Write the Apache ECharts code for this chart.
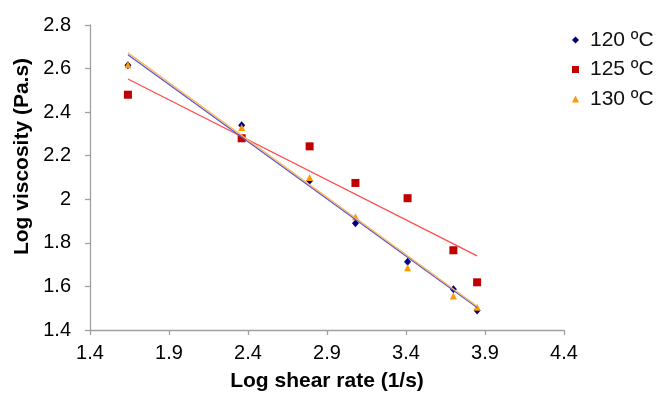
<!DOCTYPE html>
<html><head><meta charset="utf-8">
<script src="https://cdn.jsdelivr.net/npm/echarts@6/dist/echarts.min.js"></script>
<style>html,body{margin:0;padding:0;background:#fff}#c{width:656px;height:397px}</style>
</head><body><div id="c"></div>
<script>
var shearRate = [1.64, 2.36, 2.79, 3.08, 3.41, 3.70, 3.85];
var visc120 = [2.615, 2.34, 2.085, 1.89, 1.713, 1.587, 1.49];
var visc125 = [2.48, 2.28, 2.243, 2.075, 2.005, 1.766, 1.619];
var visc130 = [2.618, 2.33, 2.10, 1.92, 1.686, 1.556, 1.505];
var trendX = [1.64, 3.85];
var trend120 = [2.663, 1.503];
var trend125 = [2.552, 1.740];
var trend130 = [2.673, 1.509];
var seriesNames = ['120 ºC', '125 ºC', '130 ºC'];
var xTicks = {min: 1.4, max: 4.4, interval: 0.5};
var yTicks = {min: 1.4, max: 2.8, interval: 0.2};

function pairs(xs, ys){ return xs.map(function(x,i){ return [x, ys[i]]; }); }
var font = '"Liberation Sans", Arial, sans-serif';
var chart = echarts.init(document.getElementById('c'), null, {renderer:'canvas'});
var axisCommon = {
  axisLine: {show:true, lineStyle:{color:'#a0a0a0', width:1.3}},
  axisTick: {show:true, length:5, lineStyle:{color:'#a0a0a0', width:1.3}},
  splitLine: {show:false},
  axisLabel: {color:'#000', fontSize:20, fontFamily:font, formatter:function(v){ return String(+(+v).toFixed(1)); }},
  nameTextStyle: {color:'#000', fontSize:21, fontWeight:'bold', fontFamily:font}
};
chart.setOption({
  animation:false,
  grid:{left:90, top:25, width:474, height:307, containLabel:false},
  xAxis: Object.assign({}, axisCommon, {
    type:'value', min:xTicks.min, max:xTicks.max, interval:xTicks.interval,
    name:'Log shear rate (1/s)', nameLocation:'middle', nameGap:41,
    axisLabel: Object.assign({}, axisCommon.axisLabel, {margin:13})
  }),
  yAxis: Object.assign({}, axisCommon, {
    type:'value', min:yTicks.min, max:yTicks.max, interval:yTicks.interval,
    name:'Log viscosity (Pa.s)', nameLocation:'middle', nameGap:57,
    nameTextStyle: Object.assign({}, axisCommon.nameTextStyle, {padding:[0,0,0,42]}),
    axisLabel: Object.assign({}, axisCommon.axisLabel, {margin:19})
  }),
  legend:{
    orient:'vertical', left:572, top:29, padding:0, itemWidth:7, itemHeight:7, itemGap:7.5,
    textStyle:{color:'#111', fontSize:21, fontFamily:font, lineHeight:22, padding:[0,0,0,6]},
    data:[{name:seriesNames[0], icon:'diamond'},{name:seriesNames[1], icon:'rect'},{name:seriesNames[2], icon:'triangle'}]
  },
  series:[
    {name:seriesNames[1], type:'scatter', symbol:'rect', symbolSize:8, itemStyle:{color:'#c00000', opacity:1}, data:pairs(shearRate, visc125), z:3},
    {name:seriesNames[0], type:'scatter', symbol:'diamond', symbolSize:[7,8], itemStyle:{color:'#000080', opacity:1}, data:pairs(shearRate, visc120), z:3},
    {name:seriesNames[2], type:'scatter', symbol:'triangle', symbolSize:[7,7], itemStyle:{color:'#ff9900', opacity:1}, data:pairs(shearRate, visc130), z:4},
    {name:'t125', type:'line', symbol:'none', lineStyle:{color:'#ff4d4d', width:1.3}, data:pairs(trendX, trend125), z:5},
    {name:'t120', type:'line', symbol:'none', lineStyle:{color:'#5555dd', width:1.3}, data:pairs(trendX, trend120), z:5},
    {name:'t130', type:'line', symbol:'none', lineStyle:{color:'#ffb347', width:1.3}, data:pairs(trendX, trend130), z:5}
  ]
});
</script></body></html>
